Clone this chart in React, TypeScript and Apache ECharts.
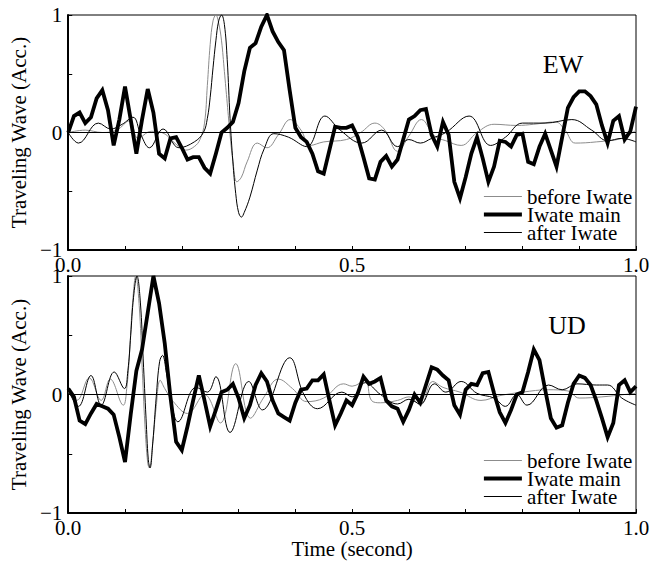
import React, { useEffect, useRef } from "react";
import * as echarts from "echarts";

// Sampling step of the main-shock traces (seconds)
const timeStep = 0.01;

const seriesNames = ["before Iwate", "Iwate main", "after Iwate"];
const panelTitles = ["EW", "UD"];
const xTickLabels = ["0.0", "0.5", "1.0"];
const yTickLabels = ["\u22121", "0", "1"];

// Iwate main shock, EW component, one value per 0.01 s
const ewMain = [
  0.0, 0.14, 0.17, 0.08, 0.13, 0.29, 0.36, 0.19, -0.11, 0.11,
  0.39, 0.11, -0.18, 0.11, 0.37, 0.17, -0.18, -0.22, -0.05, -0.04,
  -0.13, -0.23, -0.21, -0.21, -0.3, -0.35, -0.18, 0.0, 0.04, 0.09,
  0.25, 0.52, 0.72, 0.76, 0.9, 1.0, 0.86, 0.77, 0.7, 0.36,
  0.04, -0.04, -0.08, -0.18, -0.33, -0.35, -0.15, 0.05, 0.04, 0.04,
  0.06, -0.04, -0.21, -0.39, -0.4, -0.25, -0.2, -0.29, -0.23, -0.06,
  0.11, 0.14, 0.19, 0.2, -0.02, -0.12, 0.09, -0.02, -0.42, -0.56,
  -0.38, -0.18, -0.04, -0.22, -0.42, -0.29, -0.07, -0.08, -0.12, -0.02,
  -0.01, -0.25, -0.27, -0.12, -0.01, -0.15, -0.29, -0.04, 0.21, 0.3,
  0.35, 0.35, 0.31, 0.24, 0.06, -0.09, 0.1, 0.14, -0.06, 0.01,
  0.22,
];

// Iwate main shock, UD component, one value per 0.01 s
const udMain = [
  0.05, -0.02, -0.22, -0.25, -0.16, -0.08, -0.1, -0.12, -0.17, -0.36,
  -0.57, -0.17, 0.2, 0.38, 0.69, 1.0, 0.77, 0.43, -0.02, -0.4,
  -0.47, -0.27, -0.05, 0.16, -0.05, -0.27, -0.13, 0.02, 0.04, 0.09,
  -0.03, -0.2, -0.09, 0.08, 0.18, 0.11, -0.05, -0.16, -0.19, -0.22,
  -0.07, 0.04, 0.05, 0.12, 0.12, 0.17, -0.05, -0.26, -0.16, -0.05,
  -0.09, 0.01, 0.15, 0.09, 0.11, 0.14, -0.05, -0.1, -0.12, -0.23,
  -0.13, 0.0, -0.07, 0.08, 0.23, 0.21, 0.16, 0.12, -0.09, -0.17,
  0.04, 0.09, 0.08, 0.18, 0.19, 0.01, -0.15, -0.24, -0.13, 0.0,
  0.02, 0.19, 0.38, 0.29, 0.04, -0.2, -0.28, -0.26, -0.07, 0.09,
  0.16, 0.14, 0.08, -0.05, -0.2, -0.36, -0.24, 0.08, 0.12, 0.02,
  0.07,
];

// Smoothed traces of the events before / after, as [time, amplitude]
const ewBefore = [
  [0.0, 0.0], [0.03, 0.02], [0.06, 0.0], [0.085, 0.02], [0.108, 0.1],
  [0.123, -0.05], [0.146, 0.01], [0.165, 0.0], [0.19, -0.1], [0.207, -0.15],
  [0.222, -0.12], [0.232, -0.06], [0.24, 0.08], [0.245, 0.4], [0.25, 0.75],
  [0.255, 0.95], [0.26, 1.0], [0.265, 0.93], [0.27, 0.78], [0.275, 0.52],
  [0.28, 0.25], [0.285, -0.02], [0.29, -0.24], [0.297, -0.42], [0.305, -0.38],
  [0.315, -0.25], [0.333, -0.09], [0.35, -0.13], [0.37, -0.02], [0.391, 0.11],
  [0.41, 0.02], [0.426, -0.11], [0.45, -0.08], [0.49, -0.06], [0.515, 0.0],
  [0.54, 0.08], [0.558, 0.02], [0.58, -0.16], [0.6, -0.03], [0.622, 0.11],
  [0.645, -0.03], [0.665, -0.07], [0.692, -0.11], [0.72, 0.0], [0.75, 0.07],
  [0.79, 0.06], [0.82, 0.07], [0.858, 0.09], [0.875, 0.02], [0.893, -0.09],
  [0.93, -0.08], [0.975, -0.05], [1.0, 0.02],
];

const ewAfter = [
  [0.0, 0.0], [0.018, -0.09], [0.053, 0.08], [0.075, 0.03], [0.095, 0.07],
  [0.114, 0.13], [0.128, -0.02], [0.143, -0.13], [0.167, 0.03], [0.195, -0.13],
  [0.222, -0.08], [0.238, 0.0], [0.245, 0.12], [0.25, 0.3], [0.255, 0.55],
  [0.26, 0.78], [0.265, 0.95], [0.27, 1.0], [0.275, 0.92], [0.28, 0.62],
  [0.285, 0.12], [0.29, -0.25], [0.295, -0.52], [0.3, -0.68], [0.305, -0.72],
  [0.31, -0.68], [0.32, -0.55], [0.333, -0.32], [0.345, -0.14], [0.362, -0.01],
  [0.388, -0.04], [0.42, -0.12], [0.452, 0.14], [0.479, 0.02], [0.517, -0.09],
  [0.552, 0.02], [0.58, -0.12], [0.6, -0.06], [0.62, -0.09], [0.64, -0.05],
  [0.665, 0.0], [0.706, 0.14], [0.744, -0.11], [0.77, -0.04], [0.8, 0.08],
  [0.84, 0.08], [0.887, 0.11], [0.922, 0.02], [0.95, -0.07], [0.975, -0.05],
  [1.0, -0.08],
];

const udBefore = [
  [0.0, 0.02], [0.015, -0.05], [0.037, 0.14], [0.058, -0.05], [0.074, 0.13],
  [0.097, -0.09], [0.103, 0.05], [0.108, 0.35], [0.113, 0.75], [0.119, 1.0],
  [0.125, 0.75], [0.13, 0.25], [0.135, -0.25], [0.14, -0.58], [0.143, -0.62],
  [0.148, -0.45], [0.155, -0.1], [0.162, 0.12], [0.17, 0.05], [0.185, -0.06],
  [0.21, -0.16], [0.24, 0.0], [0.268, -0.24], [0.295, 0.26], [0.321, -0.2],
  [0.345, -0.02], [0.37, 0.13], [0.395, 0.05], [0.42, -0.06], [0.45, -0.03],
  [0.485, 0.09], [0.5, 0.07], [0.523, 0.12], [0.534, -0.05], [0.55, -0.07],
  [0.58, -0.05], [0.6, -0.02], [0.62, -0.09], [0.642, 0.11], [0.66, 0.06],
  [0.69, 0.02], [0.727, -0.05], [0.76, -0.01], [0.8, 0.02], [0.846, 0.04],
  [0.88, 0.03], [0.9, -0.03], [0.94, -0.02], [0.98, 0.0], [1.0, 0.01],
];

const udAfter = [
  [0.0, 0.04], [0.018, -0.1], [0.04, 0.16], [0.058, -0.09], [0.081, 0.19],
  [0.099, 0.05], [0.105, 0.2], [0.11, 0.5], [0.115, 0.82], [0.121, 1.0],
  [0.127, 0.78], [0.132, 0.3], [0.137, -0.2], [0.141, -0.55], [0.144, -0.62],
  [0.149, -0.4], [0.155, -0.02], [0.161, 0.28], [0.166, 0.33], [0.173, 0.18],
  [0.183, -0.1], [0.193, -0.23], [0.225, 0.06], [0.245, 0.02], [0.26, 0.15],
  [0.285, -0.32], [0.318, 0.11], [0.342, -0.13], [0.39, 0.31], [0.415, 0.0],
  [0.439, -0.12], [0.482, 0.02], [0.5, -0.02], [0.523, 0.1], [0.55, 0.0],
  [0.58, -0.08], [0.6, -0.04], [0.62, -0.08], [0.645, 0.09], [0.665, 0.02],
  [0.692, 0.11], [0.72, 0.01], [0.75, -0.03], [0.77, -0.1], [0.79, 0.0],
  [0.808, -0.09], [0.846, 0.08], [0.87, 0.04], [0.896, 0.09], [0.93, 0.08],
  [0.95, 0.08], [0.975, -0.03], [1.0, -0.09],
];

const FONT = '"Liberation Serif", "Times New Roman", serif';
const GRAY = "#8c8c8c";
const THIN = 1;
const THICK = 3.8;

function sampled(values: number[]) {
  return values.map((v, i) => [Math.round(i * timeStep * 100) / 100, v]);
}

function xLabel(value: number) {
  const k = Math.round(value * 10);
  return k % 5 === 0 ? xTickLabels[k / 5] : "";
}

function yLabel(value: number) {
  const k = Math.round(value * 2);
  return k % 2 === 0 ? yTickLabels[k / 2 + 1] : "";
}

function xAxis(gridIndex: number, withName: boolean) {
  return {
    type: "value",
    gridIndex,
    min: 0,
    max: 1,
    interval: 0.1,
    axisLine: { show: true, onZero: false, lineStyle: { color: "#000", width: 2 } },
    axisTick: { show: true, inside: true, length: 4, lineStyle: { color: "#000", width: 1 } },
    axisLabel: { formatter: xLabel, color: "#000", fontSize: 21, fontFamily: FONT, margin: 4 },
    splitLine: { show: false },
    name: withName ? "Time (second)" : "",
    nameLocation: "middle",
    nameGap: 25,
    nameTextStyle: { color: "#000", fontSize: 21, fontFamily: FONT },
  };
}

function yAxis(gridIndex: number) {
  return {
    type: "value",
    gridIndex,
    min: -1,
    max: 1,
    interval: 0.5,
    axisLine: { show: true, onZero: false, lineStyle: { color: "#000", width: 2 } },
    axisTick: { show: true, inside: true, length: 4, lineStyle: { color: "#000", width: 1 } },
    axisLabel: { formatter: yLabel, color: "#000", fontSize: 21, fontFamily: FONT, margin: 6 },
    splitLine: { show: false },
    name: "Traveling Wave (Acc.)",
    nameLocation: "middle",
    nameGap: 33,
    nameTextStyle: { color: "#000", fontSize: 21, fontFamily: FONT },
  };
}

function trace(name: string, data: number[][], idx: number, color: string, width: number, smooth: boolean, z: number) {
  return {
    type: "line",
    name,
    xAxisIndex: idx,
    yAxisIndex: idx,
    data,
    symbol: "none",
    showSymbol: false,
    smooth: smooth ? 0.4 : false,
    silent: true,
    z,
    itemStyle: { color },
    lineStyle: { color, width, join: "miter", cap: "butt" },
  };
}

function zeroLine() {
  return {
    silent: true,
    symbol: ["none", "none"],
    label: { show: false },
    lineStyle: { color: "#000", width: 1, type: "solid" },
    data: [{ yAxis: 0 }],
  };
}

function legend(top: number) {
  return {
    data: [
      { name: seriesNames[0], lineStyle: { width: THIN, color: GRAY } },
      { name: seriesNames[1], lineStyle: { width: THICK, color: "#000" } },
      { name: seriesNames[2], lineStyle: { width: THIN, color: "#000" } },
    ],
    orient: "vertical",
    left: 482,
    top,
    padding: 0,
    itemWidth: 38,
    itemHeight: 2,
    itemGap: -3,
    selectedMode: false,
    itemStyle: { opacity: 0 },
    lineStyle: { width: "inherit" },
    textStyle: { color: "#000", fontSize: 21, fontFamily: FONT },
  };
}

export default function App() {
  const ref = useRef<HTMLDivElement>(null);

  useEffect(() => {
    if (!ref.current) return;
    const chart = echarts.init(ref.current, null, { renderer: "svg" });

    const panels = [
      { before: ewBefore, main: sampled(ewMain), after: ewAfter },
      { before: udBefore, main: sampled(udMain), after: udAfter },
    ];

    const series: any[] = [];
    panels.forEach((p, i) => {
      const b: any = trace(seriesNames[0], p.before, i, GRAY, THIN, true, 2);
      b.markLine = zeroLine();
      series.push(b);
      series.push(trace(seriesNames[2], p.after, i, "#000", THIN, true, 3));
      series.push(trace(seriesNames[1], p.main, i, "#000", THICK, false, 4));
    });

    chart.setOption({
      animation: false,
      backgroundColor: "#fff",
      textStyle: { fontFamily: FONT },
      grid: [
        { left: 65, top: 15, width: 571, height: 235, show: true, borderColor: "#000", borderWidth: 1 },
        { left: 65, top: 276, width: 571, height: 237, show: true, borderColor: "#000", borderWidth: 1 },
      ],
      xAxis: [xAxis(0, false), xAxis(1, true)],
      yAxis: [yAxis(0), yAxis(1)],
      legend: [legend(186), legend(450)],
      graphic: [
        {
          type: "text",
          x: 563,
          y: 64,
          style: { text: panelTitles[0], fill: "#000", fontSize: 26, fontFamily: FONT, align: "center", verticalAlign: "middle" },
        },
        {
          type: "text",
          x: 567,
          y: 325,
          style: { text: panelTitles[1], fill: "#000", fontSize: 26, fontFamily: FONT, align: "center", verticalAlign: "middle" },
        },
      ],
      series,
    });

    return () => chart.dispose();
  }, []);

  return (
    <div
      ref={ref}
      style={{ position: "absolute", left: 0, top: 0, width: 659, height: 565, background: "#fff" }}
    />
  );
}
